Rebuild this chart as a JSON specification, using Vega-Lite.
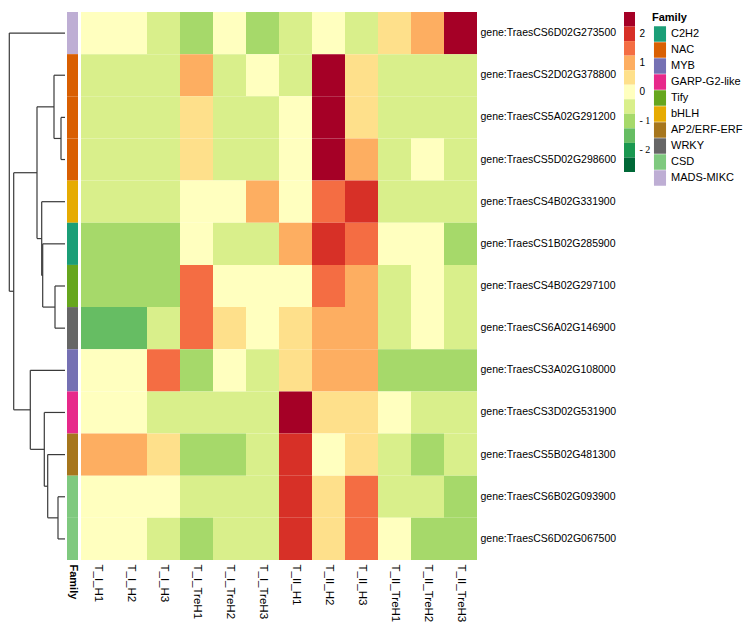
{
  "$schema": "https://vega.github.io/schema/vega-lite/v6.json",
  "padding": {"left": 8, "top": 12, "right": 0, "bottom": 0},
  "background": "white",
  "config": {
    "view": {"stroke": null},
    "font": "Liberation Sans",
    "axis": {"labelFont": "Liberation Sans", "labelColor": "#000", "domain": false, "ticks": false, "title": null, "grid": false},
    "legend": {"titleFont": "Liberation Sans", "labelFont": "Liberation Sans", "titleColor": "#000", "labelColor": "#000"}
  },
  "datasets": {
    "heat": [
      {"gene":"gene:TraesCS6D02G273500","sample":"T_I_H1","value":0},{"gene":"gene:TraesCS6D02G273500","sample":"T_I_H2","value":0},{"gene":"gene:TraesCS6D02G273500","sample":"T_I_H3","value":-0.5},{"gene":"gene:TraesCS6D02G273500","sample":"T_I_TreH1","value":-1},{"gene":"gene:TraesCS6D02G273500","sample":"T_I_TreH2","value":0},{"gene":"gene:TraesCS6D02G273500","sample":"T_I_TreH3","value":-1},{"gene":"gene:TraesCS6D02G273500","sample":"T_II_H1","value":-0.5},{"gene":"gene:TraesCS6D02G273500","sample":"T_II_H2","value":0},{"gene":"gene:TraesCS6D02G273500","sample":"T_II_H3","value":-0.5},{"gene":"gene:TraesCS6D02G273500","sample":"T_II_TreH1","value":0.5},{"gene":"gene:TraesCS6D02G273500","sample":"T_II_TreH2","value":1},{"gene":"gene:TraesCS6D02G273500","sample":"T_II_TreH3","value":2.5},
      {"gene":"gene:TraesCS2D02G378800","sample":"T_I_H1","value":-0.5},{"gene":"gene:TraesCS2D02G378800","sample":"T_I_H2","value":-0.5},{"gene":"gene:TraesCS2D02G378800","sample":"T_I_H3","value":-0.5},{"gene":"gene:TraesCS2D02G378800","sample":"T_I_TreH1","value":1},{"gene":"gene:TraesCS2D02G378800","sample":"T_I_TreH2","value":-0.5},{"gene":"gene:TraesCS2D02G378800","sample":"T_I_TreH3","value":0},{"gene":"gene:TraesCS2D02G378800","sample":"T_II_H1","value":-0.5},{"gene":"gene:TraesCS2D02G378800","sample":"T_II_H2","value":2.5},{"gene":"gene:TraesCS2D02G378800","sample":"T_II_H3","value":0.5},{"gene":"gene:TraesCS2D02G378800","sample":"T_II_TreH1","value":-0.5},{"gene":"gene:TraesCS2D02G378800","sample":"T_II_TreH2","value":-0.5},{"gene":"gene:TraesCS2D02G378800","sample":"T_II_TreH3","value":-0.5},
      {"gene":"gene:TraesCS5A02G291200","sample":"T_I_H1","value":-0.5},{"gene":"gene:TraesCS5A02G291200","sample":"T_I_H2","value":-0.5},{"gene":"gene:TraesCS5A02G291200","sample":"T_I_H3","value":-0.5},{"gene":"gene:TraesCS5A02G291200","sample":"T_I_TreH1","value":0.5},{"gene":"gene:TraesCS5A02G291200","sample":"T_I_TreH2","value":-0.5},{"gene":"gene:TraesCS5A02G291200","sample":"T_I_TreH3","value":-0.5},{"gene":"gene:TraesCS5A02G291200","sample":"T_II_H1","value":0},{"gene":"gene:TraesCS5A02G291200","sample":"T_II_H2","value":2.5},{"gene":"gene:TraesCS5A02G291200","sample":"T_II_H3","value":0.5},{"gene":"gene:TraesCS5A02G291200","sample":"T_II_TreH1","value":-0.5},{"gene":"gene:TraesCS5A02G291200","sample":"T_II_TreH2","value":-0.5},{"gene":"gene:TraesCS5A02G291200","sample":"T_II_TreH3","value":-0.5},
      {"gene":"gene:TraesCS5D02G298600","sample":"T_I_H1","value":-0.5},{"gene":"gene:TraesCS5D02G298600","sample":"T_I_H2","value":-0.5},{"gene":"gene:TraesCS5D02G298600","sample":"T_I_H3","value":-0.5},{"gene":"gene:TraesCS5D02G298600","sample":"T_I_TreH1","value":0.5},{"gene":"gene:TraesCS5D02G298600","sample":"T_I_TreH2","value":-0.5},{"gene":"gene:TraesCS5D02G298600","sample":"T_I_TreH3","value":-0.5},{"gene":"gene:TraesCS5D02G298600","sample":"T_II_H1","value":0},{"gene":"gene:TraesCS5D02G298600","sample":"T_II_H2","value":2.5},{"gene":"gene:TraesCS5D02G298600","sample":"T_II_H3","value":1},{"gene":"gene:TraesCS5D02G298600","sample":"T_II_TreH1","value":-0.5},{"gene":"gene:TraesCS5D02G298600","sample":"T_II_TreH2","value":0},{"gene":"gene:TraesCS5D02G298600","sample":"T_II_TreH3","value":-0.5},
      {"gene":"gene:TraesCS4B02G331900","sample":"T_I_H1","value":-0.5},{"gene":"gene:TraesCS4B02G331900","sample":"T_I_H2","value":-0.5},{"gene":"gene:TraesCS4B02G331900","sample":"T_I_H3","value":-0.5},{"gene":"gene:TraesCS4B02G331900","sample":"T_I_TreH1","value":0},{"gene":"gene:TraesCS4B02G331900","sample":"T_I_TreH2","value":0},{"gene":"gene:TraesCS4B02G331900","sample":"T_I_TreH3","value":1},{"gene":"gene:TraesCS4B02G331900","sample":"T_II_H1","value":0},{"gene":"gene:TraesCS4B02G331900","sample":"T_II_H2","value":1.5},{"gene":"gene:TraesCS4B02G331900","sample":"T_II_H3","value":2},{"gene":"gene:TraesCS4B02G331900","sample":"T_II_TreH1","value":-0.5},{"gene":"gene:TraesCS4B02G331900","sample":"T_II_TreH2","value":-0.5},{"gene":"gene:TraesCS4B02G331900","sample":"T_II_TreH3","value":-0.5},
      {"gene":"gene:TraesCS1B02G285900","sample":"T_I_H1","value":-1},{"gene":"gene:TraesCS1B02G285900","sample":"T_I_H2","value":-1},{"gene":"gene:TraesCS1B02G285900","sample":"T_I_H3","value":-1},{"gene":"gene:TraesCS1B02G285900","sample":"T_I_TreH1","value":0},{"gene":"gene:TraesCS1B02G285900","sample":"T_I_TreH2","value":-0.5},{"gene":"gene:TraesCS1B02G285900","sample":"T_I_TreH3","value":-0.5},{"gene":"gene:TraesCS1B02G285900","sample":"T_II_H1","value":1},{"gene":"gene:TraesCS1B02G285900","sample":"T_II_H2","value":2},{"gene":"gene:TraesCS1B02G285900","sample":"T_II_H3","value":1.5},{"gene":"gene:TraesCS1B02G285900","sample":"T_II_TreH1","value":0},{"gene":"gene:TraesCS1B02G285900","sample":"T_II_TreH2","value":0},{"gene":"gene:TraesCS1B02G285900","sample":"T_II_TreH3","value":-1},
      {"gene":"gene:TraesCS4B02G297100","sample":"T_I_H1","value":-1},{"gene":"gene:TraesCS4B02G297100","sample":"T_I_H2","value":-1},{"gene":"gene:TraesCS4B02G297100","sample":"T_I_H3","value":-1},{"gene":"gene:TraesCS4B02G297100","sample":"T_I_TreH1","value":1.5},{"gene":"gene:TraesCS4B02G297100","sample":"T_I_TreH2","value":0},{"gene":"gene:TraesCS4B02G297100","sample":"T_I_TreH3","value":0},{"gene":"gene:TraesCS4B02G297100","sample":"T_II_H1","value":0},{"gene":"gene:TraesCS4B02G297100","sample":"T_II_H2","value":1.5},{"gene":"gene:TraesCS4B02G297100","sample":"T_II_H3","value":1},{"gene":"gene:TraesCS4B02G297100","sample":"T_II_TreH1","value":-0.5},{"gene":"gene:TraesCS4B02G297100","sample":"T_II_TreH2","value":0},{"gene":"gene:TraesCS4B02G297100","sample":"T_II_TreH3","value":-0.5},
      {"gene":"gene:TraesCS6A02G146900","sample":"T_I_H1","value":-1.5},{"gene":"gene:TraesCS6A02G146900","sample":"T_I_H2","value":-1.5},{"gene":"gene:TraesCS6A02G146900","sample":"T_I_H3","value":-0.5},{"gene":"gene:TraesCS6A02G146900","sample":"T_I_TreH1","value":1.5},{"gene":"gene:TraesCS6A02G146900","sample":"T_I_TreH2","value":0.5},{"gene":"gene:TraesCS6A02G146900","sample":"T_I_TreH3","value":0},{"gene":"gene:TraesCS6A02G146900","sample":"T_II_H1","value":0.5},{"gene":"gene:TraesCS6A02G146900","sample":"T_II_H2","value":1},{"gene":"gene:TraesCS6A02G146900","sample":"T_II_H3","value":1},{"gene":"gene:TraesCS6A02G146900","sample":"T_II_TreH1","value":-0.5},{"gene":"gene:TraesCS6A02G146900","sample":"T_II_TreH2","value":0},{"gene":"gene:TraesCS6A02G146900","sample":"T_II_TreH3","value":-0.5},
      {"gene":"gene:TraesCS3A02G108000","sample":"T_I_H1","value":0},{"gene":"gene:TraesCS3A02G108000","sample":"T_I_H2","value":0},{"gene":"gene:TraesCS3A02G108000","sample":"T_I_H3","value":1.5},{"gene":"gene:TraesCS3A02G108000","sample":"T_I_TreH1","value":-1},{"gene":"gene:TraesCS3A02G108000","sample":"T_I_TreH2","value":0},{"gene":"gene:TraesCS3A02G108000","sample":"T_I_TreH3","value":-0.5},{"gene":"gene:TraesCS3A02G108000","sample":"T_II_H1","value":0.5},{"gene":"gene:TraesCS3A02G108000","sample":"T_II_H2","value":1},{"gene":"gene:TraesCS3A02G108000","sample":"T_II_H3","value":1},{"gene":"gene:TraesCS3A02G108000","sample":"T_II_TreH1","value":-1},{"gene":"gene:TraesCS3A02G108000","sample":"T_II_TreH2","value":-1},{"gene":"gene:TraesCS3A02G108000","sample":"T_II_TreH3","value":-1},
      {"gene":"gene:TraesCS3D02G531900","sample":"T_I_H1","value":0},{"gene":"gene:TraesCS3D02G531900","sample":"T_I_H2","value":0},{"gene":"gene:TraesCS3D02G531900","sample":"T_I_H3","value":-0.5},{"gene":"gene:TraesCS3D02G531900","sample":"T_I_TreH1","value":-0.5},{"gene":"gene:TraesCS3D02G531900","sample":"T_I_TreH2","value":-0.5},{"gene":"gene:TraesCS3D02G531900","sample":"T_I_TreH3","value":-0.5},{"gene":"gene:TraesCS3D02G531900","sample":"T_II_H1","value":2.5},{"gene":"gene:TraesCS3D02G531900","sample":"T_II_H2","value":0.5},{"gene":"gene:TraesCS3D02G531900","sample":"T_II_H3","value":0.5},{"gene":"gene:TraesCS3D02G531900","sample":"T_II_TreH1","value":0},{"gene":"gene:TraesCS3D02G531900","sample":"T_II_TreH2","value":-0.5},{"gene":"gene:TraesCS3D02G531900","sample":"T_II_TreH3","value":-0.5},
      {"gene":"gene:TraesCS5B02G481300","sample":"T_I_H1","value":1},{"gene":"gene:TraesCS5B02G481300","sample":"T_I_H2","value":1},{"gene":"gene:TraesCS5B02G481300","sample":"T_I_H3","value":0.5},{"gene":"gene:TraesCS5B02G481300","sample":"T_I_TreH1","value":-1},{"gene":"gene:TraesCS5B02G481300","sample":"T_I_TreH2","value":-1},{"gene":"gene:TraesCS5B02G481300","sample":"T_I_TreH3","value":-0.5},{"gene":"gene:TraesCS5B02G481300","sample":"T_II_H1","value":2},{"gene":"gene:TraesCS5B02G481300","sample":"T_II_H2","value":0},{"gene":"gene:TraesCS5B02G481300","sample":"T_II_H3","value":0.5},{"gene":"gene:TraesCS5B02G481300","sample":"T_II_TreH1","value":-0.5},{"gene":"gene:TraesCS5B02G481300","sample":"T_II_TreH2","value":-1},{"gene":"gene:TraesCS5B02G481300","sample":"T_II_TreH3","value":-0.5},
      {"gene":"gene:TraesCS6B02G093900","sample":"T_I_H1","value":0},{"gene":"gene:TraesCS6B02G093900","sample":"T_I_H2","value":0},{"gene":"gene:TraesCS6B02G093900","sample":"T_I_H3","value":0},{"gene":"gene:TraesCS6B02G093900","sample":"T_I_TreH1","value":-0.5},{"gene":"gene:TraesCS6B02G093900","sample":"T_I_TreH2","value":-0.5},{"gene":"gene:TraesCS6B02G093900","sample":"T_I_TreH3","value":-0.5},{"gene":"gene:TraesCS6B02G093900","sample":"T_II_H1","value":2},{"gene":"gene:TraesCS6B02G093900","sample":"T_II_H2","value":0.5},{"gene":"gene:TraesCS6B02G093900","sample":"T_II_H3","value":1.5},{"gene":"gene:TraesCS6B02G093900","sample":"T_II_TreH1","value":-0.5},{"gene":"gene:TraesCS6B02G093900","sample":"T_II_TreH2","value":-0.5},{"gene":"gene:TraesCS6B02G093900","sample":"T_II_TreH3","value":-1},
      {"gene":"gene:TraesCS6D02G067500","sample":"T_I_H1","value":0},{"gene":"gene:TraesCS6D02G067500","sample":"T_I_H2","value":0},{"gene":"gene:TraesCS6D02G067500","sample":"T_I_H3","value":-0.5},{"gene":"gene:TraesCS6D02G067500","sample":"T_I_TreH1","value":-1},{"gene":"gene:TraesCS6D02G067500","sample":"T_I_TreH2","value":-0.5},{"gene":"gene:TraesCS6D02G067500","sample":"T_I_TreH3","value":-0.5},{"gene":"gene:TraesCS6D02G067500","sample":"T_II_H1","value":2},{"gene":"gene:TraesCS6D02G067500","sample":"T_II_H2","value":0.5},{"gene":"gene:TraesCS6D02G067500","sample":"T_II_H3","value":1.5},{"gene":"gene:TraesCS6D02G067500","sample":"T_II_TreH1","value":0},{"gene":"gene:TraesCS6D02G067500","sample":"T_II_TreH2","value":-1},{"gene":"gene:TraesCS6D02G067500","sample":"T_II_TreH3","value":-1}
    ],
    "fam": [
      {"gene":"gene:TraesCS6D02G273500","family":"MADS-MIKC","col":"Family"},
      {"gene":"gene:TraesCS2D02G378800","family":"NAC","col":"Family"},
      {"gene":"gene:TraesCS5A02G291200","family":"NAC","col":"Family"},
      {"gene":"gene:TraesCS5D02G298600","family":"NAC","col":"Family"},
      {"gene":"gene:TraesCS4B02G331900","family":"bHLH","col":"Family"},
      {"gene":"gene:TraesCS1B02G285900","family":"C2H2","col":"Family"},
      {"gene":"gene:TraesCS4B02G297100","family":"Tify","col":"Family"},
      {"gene":"gene:TraesCS6A02G146900","family":"WRKY","col":"Family"},
      {"gene":"gene:TraesCS3A02G108000","family":"MYB","col":"Family"},
      {"gene":"gene:TraesCS3D02G531900","family":"GARP-G2-like","col":"Family"},
      {"gene":"gene:TraesCS5B02G481300","family":"AP2/ERF-ERF","col":"Family"},
      {"gene":"gene:TraesCS6B02G093900","family":"CSD","col":"Family"},
      {"gene":"gene:TraesCS6D02G067500","family":"CSD","col":"Family"}
    ],
    "levels": [
      {"level":2.5},{"level":2},{"level":1.5},{"level":1},{"level":0.5},{"level":0},
      {"level":-0.5},{"level":-1},{"level":-1.5},{"level":-2},{"level":-2.5}
    ],
    "dendro": [
      {"h":55.7,"h2":55.7,"r":0.5,"r2":6.625},{"h":0,"h2":55.7,"r":0.5,"r2":0.5},{"h":51.3,"h2":55.7,"r":6.625,"r2":6.625},
      {"h":51.3,"h2":51.3,"r":3.8125,"r2":9.4375},{"h":28,"h2":51.3,"r":3.8125,"r2":3.8125},{"h":34.7,"h2":51.3,"r":9.4375,"r2":9.4375},
      {"h":28,"h2":28,"r":2.25,"r2":5.375},{"h":11,"h2":28,"r":2.25,"r2":2.25},{"h":23.3,"h2":28,"r":5.375,"r2":5.375},
      {"h":11,"h2":11,"r":1.5,"r2":3.0},{"h":0,"h2":11,"r":1.5,"r2":1.5},{"h":4,"h2":11,"r":3.0,"r2":3.0},
      {"h":4,"h2":4,"r":2.5,"r2":3.5},{"h":0,"h2":4,"r":2.5,"r2":2.5},{"h":0,"h2":4,"r":3.5,"r2":3.5},
      {"h":23.3,"h2":23.3,"r":4.5,"r2":6.25},{"h":0,"h2":23.3,"r":4.5,"r2":4.5},{"h":22.3,"h2":23.3,"r":6.25,"r2":6.25},
      {"h":22.3,"h2":22.3,"r":5.5,"r2":7.0},{"h":0,"h2":22.3,"r":5.5,"r2":5.5},{"h":10,"h2":22.3,"r":7.0,"r2":7.0},
      {"h":10,"h2":10,"r":6.5,"r2":7.5},{"h":0,"h2":10,"r":6.5,"r2":6.5},{"h":0,"h2":10,"r":7.5,"r2":7.5},
      {"h":34.7,"h2":34.7,"r":8.5,"r2":10.375},{"h":0,"h2":34.7,"r":8.5,"r2":8.5},{"h":20.7,"h2":34.7,"r":10.375,"r2":10.375},
      {"h":20.7,"h2":20.7,"r":9.5,"r2":11.25},{"h":0,"h2":20.7,"r":9.5,"r2":9.5},{"h":17.3,"h2":20.7,"r":11.25,"r2":11.25},
      {"h":17.3,"h2":17.3,"r":10.5,"r2":12},{"h":0,"h2":17.3,"r":10.5,"r2":10.5},{"h":7,"h2":17.3,"r":12,"r2":12},
      {"h":7,"h2":7,"r":11.5,"r2":12.5},{"h":0,"h2":7,"r":11.5,"r2":11.5},{"h":0,"h2":7,"r":12.5,"r2":12.5}
    ]
  },
  "spacing": 8,
  "resolve": {"scale": {"x": "independent", "y": "independent", "fill": "independent"}},
  "hconcat": [
    {
      "spacing": 3,
      "resolve": {"scale": {"x": "independent", "y": "independent", "fill": "independent"}},
      "hconcat": [
        {
          "spacing": 1,
          "resolve": {"scale": {"x": "independent", "y": "independent"}},
          "hconcat": [
            {
              "width": 56,
              "height": 548,
              "data": {"name": "dendro"},
              "mark": {"type": "rule", "color": "#3a3a3a", "strokeWidth": 1.2},
              "encoding": {
                "x": {"field": "h", "type": "quantitative", "scale": {"domain": [0, 56], "reverse": true, "nice": false, "zero": false}, "axis": null},
                "x2": {"field": "h2"},
                "y": {"field": "r", "type": "quantitative", "scale": {"domain": [0, 13], "reverse": true, "nice": false, "zero": false}, "axis": null},
                "y2": {"field": "r2"}
              }
            },
            {
              "width": 11,
              "height": 548,
              "data": {"name": "fam"},
              "mark": {"type": "rect"},
              "encoding": {
                "x": {"field": "col", "type": "nominal", "scale": {"paddingInner": 0, "paddingOuter": 0},
                  "axis": {"orient": "bottom", "labelAngle": 90, "labelFontWeight": "bold", "labelFontSize": 11, "labelPadding": 4}},
                "y": {"field": "gene", "type": "nominal", "sort": null, "scale": {"paddingInner": 0, "paddingOuter": 0}, "axis": null},
                "color": {"field": "family", "type": "nominal",
                  "scale": {"domain": ["C2H2","NAC","MYB","GARP-G2-like","Tify","bHLH","AP2/ERF-ERF","WRKY","CSD","MADS-MIKC"],
                    "range": ["#1b9e77","#d95f02","#7570b3","#e7298a","#66a61e","#e6ab02","#a6761d","#666666","#7fc97f","#beaed4"]},
                  "legend": {"title": "Family", "orient": "right", "offset": 2, "titleFontSize": 11, "titleFontWeight": "bold", "titlePadding": 3,
                    "labelFontSize": 11, "labelOffset": 3, "symbolType": "M-0.78,-1H0.78V1H-0.78Z", "symbolSize": 240,
                    "symbolStrokeWidth": 0, "rowPadding": 0}}
              }
            }
          ]
        },
        {
          "width": 396,
          "height": 548,
          "data": {"name": "heat"},
          "mark": {"type": "rect"},
          "encoding": {
            "x": {"field": "sample", "type": "nominal", "sort": null, "scale": {"paddingInner": 0, "paddingOuter": 0},
              "axis": {"orient": "bottom", "labelAngle": 90, "labelFontSize": 11.5, "labelPadding": 4}},
            "y": {"field": "gene", "type": "nominal", "sort": null, "scale": {"paddingInner": 0, "paddingOuter": 0},
              "axis": {"orient": "right", "labelFontSize": 10.5, "labelPadding": 3}},
            "fill": {"field": "value", "type": "quantitative", "legend": null,
              "scale": {"type": "threshold", "domain": [-2.25,-1.75,-1.25,-0.75,-0.25,0.25,0.75,1.25,1.75,2.25],
                "range": ["#006837","#1a9850","#66bd63","#a6d96a","#d9ef8b","#ffffbf","#fee08b","#fdae61","#f46d43","#d73027","#a50026"]}}
          }
        }
      ]
    },
    {
      "width": 11,
      "height": 160,
      "data": {"name": "levels"},
      "mark": {"type": "rect"},
      "encoding": {
        "y": {"field": "level", "type": "ordinal", "sort": "descending", "scale": {"paddingInner": 0, "paddingOuter": 0},
          "axis": {"orient": "right", "labelFontSize": 10, "labelPadding": 4,
            "labelFont": {"condition": {"test": "datum.value < 0", "value": "Liberation Serif"}, "value": "Liberation Sans"},
            "labelExpr": "datum.value == 2 ? '2' : datum.value == 1 ? '1' : datum.value == 0 ? '0' : datum.value == -1 ? '- 1' : datum.value == -2 ? '- 2' : ''"}},
        "fill": {"field": "level", "type": "quantitative", "legend": null,
          "scale": {"type": "threshold", "domain": [-2.25,-1.75,-1.25,-0.75,-0.25,0.25,0.75,1.25,1.75,2.25],
            "range": ["#006837","#1a9850","#66bd63","#a6d96a","#d9ef8b","#ffffbf","#fee08b","#fdae61","#f46d43","#d73027","#a50026"]}}
      }
    }
  ]
}
